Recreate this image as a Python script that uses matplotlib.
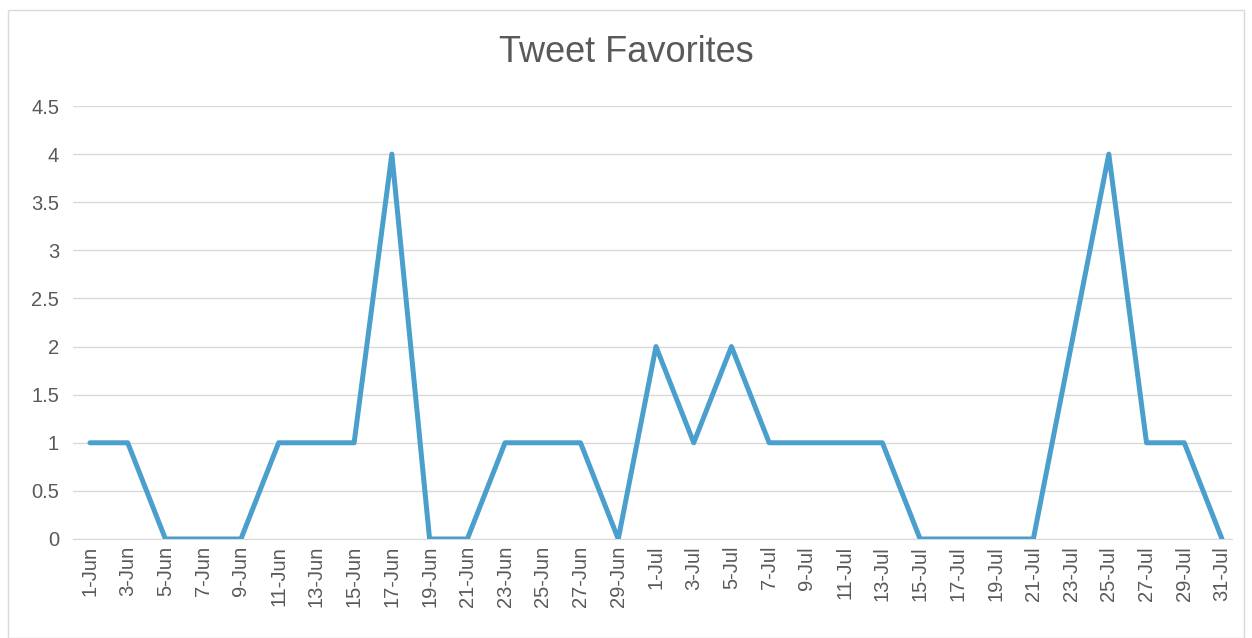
import matplotlib.pyplot as plt
import matplotlib.patches as mpatches

labels = ['1-Jun', '3-Jun', '5-Jun', '7-Jun', '9-Jun', '11-Jun', '13-Jun', '15-Jun',
          '17-Jun', '19-Jun', '21-Jun', '23-Jun', '25-Jun', '27-Jun', '29-Jun',
          '1-Jul', '3-Jul', '5-Jul', '7-Jul', '9-Jul', '11-Jul', '13-Jul', '15-Jul',
          '17-Jul', '19-Jul', '21-Jul', '23-Jul', '25-Jul', '27-Jul', '29-Jul', '31-Jul']
favorites = [1, 1, 0, 0, 0, 1, 1, 1, 4, 0, 0, 1, 1, 1, 0,
             2, 1, 2, 1, 1, 1, 1, 0, 0, 0, 0, 2, 4, 1, 1, 0]

plt.rcParams['font.family'] = ['Liberation Sans', 'DejaVu Sans']

fig = plt.figure(figsize=(12.52, 6.38), dpi=100)
ax = fig.add_axes([73/1252, 1 - 539/638, (1232-73)/1252, (539-106)/638])

# light border round the chart area
fig.patches.append(mpatches.Rectangle((8/1252, 0), 1 - 16/1252, 1 - 10/638,
                                      transform=fig.transFigure, fill=False,
                                      ec='#d9d9d9', lw=1))

x = list(range(len(labels)))
ax.plot(x, favorites, c='#4a9fcd', lw=3.6, solid_joinstyle='round', solid_capstyle='round', zorder=3)

ax.set_xlim(-0.45, len(labels) - 1 + 0.265)
ax.set_ylim(0, 4.5)
ax.set_yticks([0, 0.5, 1, 1.5, 2, 2.5, 3, 3.5, 4, 4.5])
ax.set_yticklabels(['0', '0.5', '1', '1.5', '2', '2.5', '3', '3.5', '4', '4.5'])
ax.set_xticks(x)
ax.set_xticklabels(labels, rotation=90)
ax.tick_params(axis='both', length=0, labelsize=14.5, colors='#595959')
ax.tick_params(axis='y', pad=10)
ax.tick_params(axis='x', pad=5)
ax.grid(axis='y', color='#d9d9d9', lw=1)
ax.set_axisbelow(True)
for s in ax.spines.values():
    s.set_visible(False)
ax.spines['bottom'].set_visible(True)
ax.spines['bottom'].set_color('#d9d9d9')

fig.suptitle('Tweet Favorites', y=1 - 53/638, va='center', fontsize=26, color='#595959')

fig.savefig('out.png', dpi=100)
